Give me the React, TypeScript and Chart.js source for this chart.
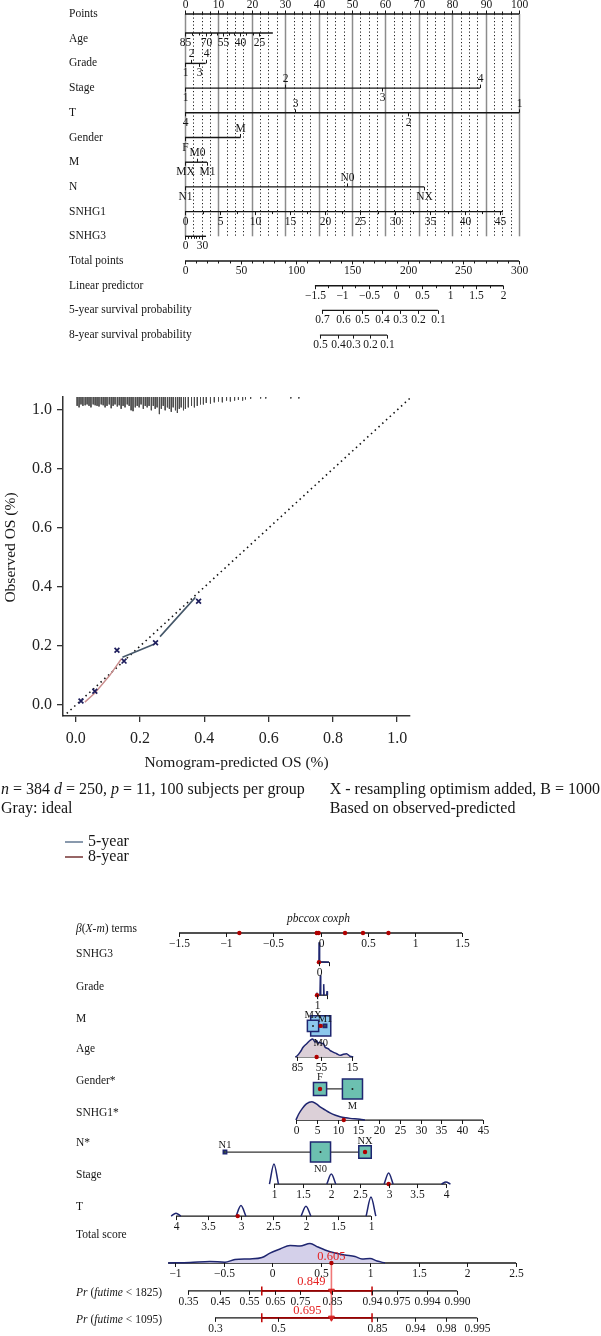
import React, { useEffect, useRef } from 'react';
import { Chart, registerables } from 'chart.js';

Chart.register(...registerables);

const SERIF = '"Liberation Serif", "Times New Roman", Times, serif';
const INK = '#161616';
const NAVY = '#1f2670';

/* ================= Panel A : nomogram ================= */
const nomoRowNames = ['Points', 'Age', 'Grade', 'Stage', 'T', 'Gender', 'M', 'N', 'SNHG1', 'SNHG3',
  'Total points', 'Linear predictor', '5-year survival probability', '8-year survival probability'];

const pointsValues = [0, 10, 20, 30, 40, 50, 60, 70, 80, 90, 100];
const ageValues = [85, 70, 55, 40, 25];
const agePoints = [0, 6.2, 11.3, 16.5, 22.2];
const ageEndPoints = 26.3;
const gradeLabels = ['1', '2', '3', '4'];
const gradePoints = [0, 1.7, 4.1, 6.2];
const stageLabels = ['1', '2', '3', '4'];
const stagePoints = [0, 30, 59, 88.3];
const tLabels = ['4', '3', '2', '1'];
const tPoints = [0, 33, 66.7, 100];
const genderLabels = ['F', 'M'];
const genderPoints = [0, 16.6];
const mLabels = ['MX', 'M0', 'M1'];
const mPoints = [0, 3.7, 6.6];
const nLabels = ['N1', 'N0', 'NX'];
const nPoints = [0, 48.5, 71.6];
const snhg1Values = [0, 5, 10, 15, 20, 25, 30, 35, 40, 45];
const snhg1Points = [0, 10.5, 20.9, 31.4, 41.9, 52.4, 62.9, 73.4, 83.8, 94.3];
const snhg1EndPoints = 95.2;
const snhg3Values = [0, 30];
const snhg3Points = [0, 5.1];
const snhg3EndPoints = 6.3;
const totalPointsValues = [0, 50, 100, 150, 200, 250, 300];
const totalPointsPos = [0, 16.67, 33.33, 50, 66.67, 83.33, 100];
const lpValues = [-1.5, -1, -0.5, 0, 0.5, 1, 1.5, 2];
const lpPoints = [38.9, 47.0, 55.0, 63.1, 71.1, 79.2, 87.2, 95.3];
const surv5Labels = ['0.7', '0.6', '0.5', '0.4', '0.3', '0.2', '0.1'];
const surv5Points = [41.0, 47.3, 53.0, 59.0, 64.4, 69.8, 75.7];
const surv8Labels = ['0.5', '0.4', '0.3', '0.2', '0.1'];
const surv8Points = [40.4, 45.8, 50.3, 55.4, 60.5];

const fmtMinus = (v: number) => (v < 0 ? '\u2212' + String(-v) : String(v));

function stepTicks(vals: number[], pts: number[], step: number) {
  const out: number[] = [];
  for (let k = 0; k < vals.length - 1; k++) {
    const a = vals[k], b = vals[k + 1];
    const dir = b > a ? 1 : -1;
    for (let v = a + dir * step; dir > 0 ? v < b - 1e-9 : v > b + 1e-9; v += dir * step) {
      out.push(pts[k] + (v - a) * (pts[k + 1] - pts[k]) / (b - a));
    }
  }
  return out;
}

type NRow = { labels: string[]; pts: number[]; side: string; from: number; to: number; dy?: number; minor?: number[] };

const nomoRows: NRow[] = [
  { labels: pointsValues.map(String), pts: pointsValues, side: 'aaaaaaaaaaa', from: 0, to: 100, minor: stepTicks(pointsValues, pointsValues, 2.5) },
  { labels: ageValues.map(String), pts: agePoints, side: 'bbbbb', from: 0, to: ageEndPoints, dy: -0.23, minor: stepTicks(ageValues, agePoints, 5) },
  { labels: gradeLabels, pts: gradePoints, side: 'baba', from: 0, to: gradePoints[3] },
  { labels: stageLabels, pts: stagePoints, side: 'baba', from: 0, to: stagePoints[3] },
  { labels: tLabels, pts: tPoints, side: 'baba', from: 0, to: 100 },
  { labels: genderLabels, pts: genderPoints, side: 'ba', from: 0, to: genderPoints[1] },
  { labels: mLabels, pts: mPoints, side: 'bab', from: 0, to: mPoints[2] },
  { labels: nLabels, pts: nPoints, side: 'bab', from: 0, to: nPoints[2] },
  { labels: snhg1Values.map(String), pts: snhg1Points, side: 'bbbbbbbbbb', from: 0, to: snhg1EndPoints, minor: stepTicks(snhg1Values, snhg1Points, 2.5) },
  { labels: snhg3Values.map(String), pts: snhg3Points, side: 'bb', from: 0, to: snhg3EndPoints, minor: stepTicks(snhg3Values, snhg3Points, 5) },
  { labels: totalPointsValues.map(String), pts: totalPointsPos, side: 'bbbbbbb', from: 0, to: 100, minor: stepTicks(totalPointsValues, totalPointsPos, 10) },
  { labels: lpValues.map(fmtMinus), pts: lpPoints, side: 'bbbbbbbb', from: lpPoints[0], to: lpPoints[7], minor: stepTicks(lpValues, lpPoints, 0.25) },
  { labels: surv5Labels, pts: surv5Points, side: 'bbbbbbb', from: surv5Points[0], to: surv5Points[6] },
  { labels: surv8Labels, pts: surv8Points, side: 'bbbbb', from: surv8Points[0], to: surv8Points[4] },
];

/* ================= Panel B : calibration ================= */
const calTicks = [0, 0.2, 0.4, 0.6, 0.8, 1.0];
const calPred = [0.016, 0.059, 0.128, 0.150, 0.248, 0.382];
const calObs = [0.014, 0.047, 0.186, 0.149, 0.211, 0.352];
const line8Pred = [0.028, 0.06, 0.105, 0.142];
const line8Obs = [0.01, 0.042, 0.1, 0.157];
const line5Pred = [0.145, 0.243, 0.252, 0.262, 0.372];
const line5Obs = [0.162, 0.206, null, 0.232, 0.365];
const spikePred = [
  0.004, 0.010, 0.016, 0.022, 0.029, 0.035, 0.041, 0.047, 0.054, 0.060,
  0.066, 0.072, 0.079, 0.085, 0.091, 0.097, 0.104, 0.110, 0.116, 0.122,
  0.129, 0.135, 0.141, 0.147, 0.153, 0.160, 0.166, 0.172, 0.178, 0.185,
  0.191, 0.197, 0.203, 0.210, 0.216, 0.222, 0.228, 0.235, 0.241, 0.247,
  0.253, 0.260, 0.266, 0.272, 0.278, 0.285, 0.291, 0.297, 0.303, 0.310,
  0.316, 0.322, 0.328, 0.335, 0.341, 0.350, 0.360, 0.369, 0.378, 0.388,
  0.397, 0.406, 0.419, 0.431, 0.444, 0.456, 0.469, 0.481, 0.494, 0.506,
  0.519, 0.528, 0.544, 0.575, 0.591, 0.669, 0.694];
const spikeLen = [
  0.030, 0.035, 0.025, 0.030, 0.028, 0.025, 0.030, 0.035, 0.025, 0.028,
  0.030, 0.032, 0.025, 0.028, 0.035, 0.030, 0.025, 0.038, 0.030, 0.025,
  0.032, 0.028, 0.040, 0.030, 0.035, 0.025, 0.030, 0.045, 0.048, 0.035,
  0.030, 0.035, 0.025, 0.040, 0.030, 0.035, 0.030, 0.045, 0.030, 0.040,
  0.035, 0.058, 0.040, 0.030, 0.045, 0.035, 0.040, 0.050, 0.035, 0.045,
  0.054, 0.040, 0.035, 0.045, 0.040, 0.035, 0.030, 0.035, 0.030, 0.025,
  0.025, 0.020, 0.022, 0.018, 0.015, 0.018, 0.012, 0.015, 0.012, 0.010,
  0.012, 0.008, 0.006, 0.005, 0.005, 0.005, 0.005];
const calMin = -0.04, calMaxX = 1.04, calMinY = -0.037, calMaxY = 1.044;

/* ================= Panel C : regression nomogram ================= */
const betaTicks = [-1.5, -1, -0.5, 0, 0.5, 1, 1.5];
const betaObs = [-0.86, -0.04, -0.02, 0.26, 0.45, 0.72];
const snhg3DensVals = [0, 0.3, 1, 3, 30];
const snhg3Dens = [0, 1, 0.08, 0.02, 0];
const gradeLevels = [1, 2, 3, 4];
const gradeFreq = [0.06, 1.0, 0.55, 0.2];
const mCats = ['MX', 'M0', 'M1'];
const mFreq = [0.22, 0.70, 0.02];
const mScore = [0.416, 0.495, 0.539];
const ageDensVals = [87, 85, 81, 77, 72.7, 68.5, 65, 62, 60, 58, 55.7, 53.6, 51.5, 49.4, 45, 43, 39, 34.5, 30, 26, 22, 17.6, 13.4];
const ageDens = [0, 0.05, 0.27, 0.55, 0.73, 0.91, 1.0, 0.82, 0.91, 0.76, 0.82, 0.73, 0.76, 0.55, 0.45, 0.36, 0.27, 0.18, 0.09, 0.15, 0.18, 0.04, 0];
const ageAxisTicks = [85, 55, 15];
const genderCats = ['F', 'M'];
const genderFreq = [0.30, 0.70];
const genderScore = [0.488, 0.821];
const snhg1DensVals = [0, 0.6, 1.5, 2.5, 3.85, 5, 5.8, 7, 8.2, 9.5, 10.6, 12, 13, 15.4, 16.6];
const snhg1Dens = [0, 0.3, 0.62, 0.88, 1.0, 0.86, 0.72, 0.55, 0.39, 0.26, 0.18, 0.12, 0.09, 0.04, 0];
const nCats = ['N1', 'N0', 'NX'];
const nFreq = [0.02, 0.70, 0.27];
const nScore = [-0.488, 0.493, 0.950];
const stageLevels = [1, 2, 3, 4];
const stageFreq = [1.0, 0.5, 0.55, 0.1];
const stageTicks = [1, 1.5, 2, 2.5, 3, 3.5, 4];
const tLevels = [4, 3, 2, 1];
const tFreq = [0.15, 0.55, 0.52, 1.0];
const tTicks = [4, 3.5, 3, 2.5, 2, 1.5, 1];
const totalDensScore = [-1.073, -0.847, -0.642, -0.488, -0.385, -0.231, -0.108, -0.026, 0.077, 0.180, 0.282, 0.385, 0.467, 0.539, 0.642, 0.744, 0.847, 0.919, 1.001, 1.073, 1.155];
const totalDens = [0, 0.03, 0.08, 0.04, 0.18, 0.21, 0.28, 0.51, 0.72, 0.9, 0.87, 1.0, 0.82, 0.67, 0.51, 0.41, 0.33, 0.21, 0.23, 0.1, 0];
const totalTicks = [-1, -0.5, 0, 0.5, 1, 1.5, 2, 2.5];
const pr1825Labels = ['0.35', '0.45', '0.55', '0.65', '0.75', '0.85', '0.94', '0.975', '0.994', '0.990'];
const pr1825Score = [-0.868, -0.539, -0.246, 0.026, 0.282, 0.611, 1.022, 1.278, 1.586, 1.894];
const pr1095Labels = ['0.3', '0.5', '0.85', '0.94', '0.98', '0.995'];
const pr1095Score = [-0.590, 0.056, 1.073, 1.463, 1.781, 2.099];
const obsTotal = 0.605;
const obsPr1825 = '0.849';
const obsPr1095 = '0.695';
const prInterval = [-0.11, 1.022];
const obsAge = 60, obsSnhg1 = 11.5, obsStage = 3, obsT = 3.05, obsSnhg3 = 0, obsGrade = 1;
const obsM = 'M0', obsGender = 'F', obsN = 'NX';

const lin = (v0: number, s0: number, v1: number, s1: number) => (v: number) => s0 + (v - v0) * (s1 - s0) / (v1 - v0);
const betaToScore = lin(-1.5, -0.960, 1.5, 1.946);
const snhg3ToScore = lin(0, 0.477, 30, 0.580);
const gradeToScore = lin(1, 0.457, 4, 0.560);
const ageToScore = lin(85, 0.2515, 15, 0.816);
const snhg1ToScore = lin(0, 0.241, 45, 2.161);
const stageToScore = lin(1, 0.015, 4, 1.781);
const tToScore = lin(4, -0.991, 1, 1.011);
const idScore = (v: number) => v;

// layout: baseline of each row (row units)
const R: Record<string, number> = { beta: 0, snhg3: 0.92, grade: 1.96, m: 2.93, age: 3.91, gender: 4.92, snhg1: 5.9, n: 6.91, stage: 7.92, t: 8.93, total: 10.41, pr1825: 11.29, pr1095: 12.14 };

/* ================= helpers ================= */
type Run = [string, boolean?];
function drawRuns(ctx: CanvasRenderingContext2D, runs: Run[], x: number, y: number, size: number, align = 'left', color = INK, weight = '') {
  ctx.save();
  ctx.textBaseline = 'middle';
  ctx.textAlign = 'left';
  ctx.fillStyle = color;
  const f = (it?: boolean) => `${it ? 'italic ' : ''}${weight ? weight + ' ' : ''}${size}px ${SERIF}`;
  let total = 0;
  for (const [t, it] of runs) { ctx.font = f(it); total += ctx.measureText(t).width; }
  let cx = align === 'left' ? x : align === 'center' ? x - total / 2 : x - total;
  for (const [t, it] of runs) { ctx.font = f(it); ctx.fillText(t, cx, y); cx += ctx.measureText(t).width; }
  ctx.restore();
}
function seg(ctx: CanvasRenderingContext2D, x1: number, y1: number, x2: number, y2: number) {
  ctx.beginPath(); ctx.moveTo(x1, y1); ctx.lineTo(x2, y2); ctx.stroke();
}

const common = {
  responsive: false,
  animation: false as const,
  devicePixelRatio: 1,
  events: [] as any[],
  elements: { point: { radius: 0 } },
  layout: { padding: 0, autoPadding: false },
};

/* ================= chart builders ================= */
function makeNomogram(canvas: HTMLCanvasElement) {
  const datasets = nomoRows.map((r, i) => ({
    data: [{ x: r.from, y: i + (r.dy || 0) }, { x: r.to, y: i + (r.dy || 0) }],
    borderColor: INK, borderWidth: 1.4, pointRadius: 0,
  }));
  const plugin = {
    id: 'nomoDeco',
    beforeDatasetsDraw(chart: any) {
      const { ctx, scales: { x, y } } = chart;
      const yTop = y.getPixelForValue(0), yBot = y.getPixelForValue(9);
      for (let p = 0; p <= 100 + 1e-9; p += 2.5) {
        const px = Math.round(x.getPixelForValue(p)) + 0.5;
        ctx.save();
        if (Math.abs(p % 10) < 1e-9) { ctx.strokeStyle = '#8c8c8c'; ctx.lineWidth = 1.5; }
        else { ctx.strokeStyle = '#202020'; ctx.lineWidth = 1; ctx.setLineDash([1.2, 2.3]); }
        seg(ctx, px, yTop, px, yBot);
        ctx.restore();
      }
    },
    afterDatasetsDraw(chart: any) {
      const { ctx, scales: { x, y } } = chart;
      ctx.save();
      ctx.strokeStyle = INK; ctx.lineWidth = 1;
      nomoRows.forEach((r, i) => {
        const py = y.getPixelForValue(i + (r.dy || 0));
        const mdir = r.side[0] === 'a' ? -1 : 1;
        (r.minor || []).forEach((p) => { const px = Math.round(x.getPixelForValue(p)) + 0.5; seg(ctx, px, py, px, py + mdir * 2.5); });
        r.pts.forEach((p, k) => {
          const up = r.side[k] === 'a';
          const px = Math.round(x.getPixelForValue(p)) + 0.5;
          seg(ctx, px, py, px, py + (up ? -3.5 : 3.5));
          drawRuns(ctx, [[r.labels[k]]], px, py + (up ? -9 : 10), 11.5, 'center');
        });
        drawRuns(ctx, [[nomoRowNames[i]]], 69, y.getPixelForValue(i), 11.5, 'left');
      });
      ctx.restore();
    },
  };
  return new Chart(canvas, {
    type: 'line',
    data: { datasets } as any,
    options: {
      ...common,
      scales: {
        x: { type: 'linear', display: false, min: -55.389, max: 124.551 },
        y: { type: 'linear', display: false, reverse: true, min: -0.5668, max: 13.8057 },
      },
      plugins: { legend: { display: false }, tooltip: { enabled: false } },
    } as any,
    plugins: [plugin],
  });
}

function makeCalibration(canvas: HTMLCanvasElement) {
  const spikes: any[] = [];
  spikePred.forEach((p, i) => {
    spikes.push({ x: p, y: calMaxY }, { x: p, y: calMaxY - spikeLen[i] }, { x: p, y: null });
  });
  const font = { family: SERIF, size: 16 };
  const TS = 16;
  const plugin = {
    id: 'calDeco',
    afterDraw(chart: any) {
      const { ctx, chartArea: a } = chart;
      drawRuns(ctx, [['Nomogram-predicted OS (%)']], (a.left + a.right) / 2, a.bottom + 47, 15.5, 'center');
      ctx.save();
      ctx.translate(11, (a.top + a.bottom) / 2 - 9);
      ctx.rotate(-Math.PI / 2);
      drawRuns(ctx, [['Observed OS (%)']], 0, 0, 15.5, 'center');
      ctx.restore();
      const y1 = a.bottom + 74, y2 = a.bottom + 93;
      drawRuns(ctx, [['n', true], [' = 384 '], ['d', true], [' = 250, '], ['p', true], [' = 11, 100 subjects per group']], 1, y1, TS);
      ctx.save();
      ctx.font = `${TS}px ${SERIF}`;
      const xLine = 'X - resampling optimism added, B = 1000';
      const startX = 600 - ctx.measureText(xLine).width;
      ctx.restore();
      drawRuns(ctx, [[xLine]], startX, y1, TS);
      drawRuns(ctx, [['Gray: ideal']], 1, y2, TS);
      drawRuns(ctx, [['Based on observed-predicted']], startX, y2, TS);
      const legend = [['5-year', '#6b7f99'], ['8-year', '#7d3f3f']];
      legend.forEach(([name, col], k) => {
        const ly = a.bottom + 126 + k * 15;
        ctx.save(); ctx.strokeStyle = col; ctx.lineWidth = 1.6; seg(ctx, 65, ly, 83, ly); ctx.restore();
        drawRuns(ctx, [[name]], 88, ly, TS);
      });
    },
  };
  const axisCommon = (min: number, max: number, extra: any) => ({
    type: 'linear', min, max,
    afterBuildTicks: (ax: any) => { ax.ticks = calTicks.map((v) => ({ value: v })); },
    grid: { display: true, drawOnChartArea: false, drawTicks: true, tickLength: 6, color: '#333', lineWidth: 1.3 },
    border: { display: true, color: '#333', width: 1.5 },
    ...extra,
  });
  return new Chart(canvas, {
    type: 'line',
    data: {
      datasets: [
        { data: spikes, borderColor: '#4a4a4a', borderWidth: 1, pointRadius: 0, spanGaps: false, order: 5 },
        { data: [{ x: calMin, y: calMin }, { x: calMaxX, y: calMaxX }], borderColor: '#111', borderWidth: 1.6, borderDash: [1.5, 3.6], pointRadius: 0, order: 4 },
        { data: line8Pred.map((x, i) => ({ x, y: line8Obs[i] })), borderColor: '#c98d8d', borderWidth: 1.4, pointRadius: 0, order: 3 },
        { data: line5Pred.map((x, i) => ({ x, y: line5Obs[i] })), borderColor: '#46586a', borderWidth: 1.6, pointRadius: 0, spanGaps: false, order: 2 },
        { data: calPred.map((x, i) => ({ x, y: calObs[i] })), showLine: false, pointStyle: 'crossRot', pointRadius: 3.4, pointBorderWidth: 1.7, pointBorderColor: '#1d1d5c', order: 1 },
      ],
    } as any,
    options: {
      ...common,
      layout: { padding: { top: 42, right: 191, bottom: 91, left: 0 }, autoPadding: false },
      scales: {
        x: axisCommon(calMin, calMaxX, { afterFit: (s: any) => { s.height = 60; }, ticks: { font, color: '#222', callback: (v: any) => Number(v).toFixed(1), autoSkip: false, maxRotation: 0, padding: 7 } }),
        y: axisCommon(calMinY, calMaxY, { afterFit: (s: any) => { s.width = 63; }, ticks: { font, color: '#222', callback: (v: any) => Number(v).toFixed(1), autoSkip: false, padding: 5 } }),
      },
      plugins: { legend: { display: false }, tooltip: { enabled: false } },
    } as any,
    plugins: [plugin],
  });
}

function densityData(vals: number[], dens: number[], map: (v: number) => number, base: number, h: number) {
  return vals.map((v, i) => ({ x: map(v), y: base - dens[i] * h }));
}
function bumpData(levels: number[], freq: number[], map: (v: number) => number, base: number, h: number, w: number) {
  const out: any[] = [];
  levels.forEach((c, i) => {
    const s = map(c);
    out.push({ x: s - w, y: base }, { x: s, y: base - freq[i] * h }, { x: s + w, y: base }, { x: s + w, y: null });
  });
  return out;
}

function makeRegplot(canvas: HTMLCanvasElement) {
  const axisSet = (from: number, to: number, map: (v: number) => number, row: number, w = 1.3) => ({
    data: [{ x: map(from), y: row }, { x: map(to), y: row }], borderColor: INK, borderWidth: w, pointRadius: 0, order: 10,
  });
  const boxSet = (scores: number[], freq: number[], row: number, fill: string) => {
    const idx = freq.map((_, i) => i).sort((a, b) => freq[b] - freq[a]);
    return {
      data: idx.map((i) => ({ x: scores[i], y: row })),
      showLine: false, pointStyle: 'rect',
      pointRadius: idx.map((i) => (24 * Math.sqrt(freq[i])) / 1.414),
      pointBackgroundColor: fill, pointBorderColor: NAVY, pointBorderWidth: 1.5, order: 5,
    };
  };
  const densStyle = { borderColor: NAVY, borderWidth: 1.5, pointRadius: 0, cubicInterpolationMode: 'monotone', order: 8 };
  const redPts = [
    ...betaObs.map((b) => ({ x: betaToScore(b), y: R.beta })),
    { x: snhg3ToScore(obsSnhg3), y: R.snhg3 },
    { x: gradeToScore(obsGrade), y: R.grade },
    { x: mScore[mCats.indexOf(obsM)], y: R.m },
    { x: ageToScore(obsAge), y: R.age },
    { x: genderScore[genderCats.indexOf(obsGender)], y: R.gender },
    { x: snhg1ToScore(obsSnhg1), y: R.snhg1 },
    { x: nScore[nCats.indexOf(obsN)], y: R.n },
    { x: stageToScore(obsStage), y: R.stage },
    { x: tToScore(obsT), y: R.t },
    { x: obsTotal, y: R.total },
  ];
  const datasets: any[] = [
    axisSet(-1.5, 1.5, betaToScore, R.beta),
    axisSet(0, 30, snhg3ToScore, R.snhg3),
    axisSet(1, 4, gradeToScore, R.grade),
    axisSet(87, 14, ageToScore, R.age),
    axisSet(0, 45, snhg1ToScore, R.snhg1),
    axisSet(1, 4, stageToScore, R.stage),
    axisSet(4, 1, tToScore, R.t),
    axisSet(-1.07, 2.5, idScore, R.total, 1.5),
    axisSet(pr1825Score[0], pr1825Score[pr1825Score.length - 1], idScore, R.pr1825),
    axisSet(pr1095Score[0], pr1095Score[pr1095Score.length - 1], idScore, R.pr1095),
    { data: [{ x: genderScore[0], y: R.gender }, { x: genderScore[1], y: R.gender }], borderColor: '#333', borderWidth: 1.3, pointRadius: 0, order: 9 },
    { data: [{ x: nScore[0], y: R.n }, { x: nScore[2], y: R.n }], borderColor: '#333', borderWidth: 1.3, pointRadius: 0, order: 9 },
    { ...densStyle, cubicInterpolationMode: 'default', tension: 0, data: densityData(snhg3DensVals, snhg3Dens, snhg3ToScore, R.snhg3, 0.63) },
    { ...densStyle, cubicInterpolationMode: 'default', tension: 0, data: bumpData(gradeLevels, gradeFreq, gradeToScore, R.grade, 0.63, 0.004) },
    { ...densStyle, data: densityData(ageDensVals, ageDens, ageToScore, R.age, 0.57), fill: { value: R.age }, backgroundColor: '#dcd0d8' },
    { ...densStyle, data: densityData(snhg1DensVals, snhg1Dens, snhg1ToScore, R.snhg1, 0.58), fill: { value: R.snhg1 }, backgroundColor: '#dcd0d8' },
    { ...densStyle, data: bumpData(stageLevels, stageFreq, stageToScore, R.stage, 0.63, 0.046) },
    { ...densStyle, data: bumpData(tLevels, tFreq, tToScore, R.t, 0.6, 0.05) },
    { ...densStyle, data: densityData(totalDensScore, totalDens, idScore, R.total, 0.615), fill: { value: R.total }, backgroundColor: '#d4d0ea' },
    boxSet(mScore, mFreq, R.m, '#8cc8ec'),
    boxSet(genderScore, genderFreq, R.gender, '#6cc0b0'),
    boxSet(nScore, nFreq, R.n, '#6cc0b0'),
    { data: [...mScore.map((s) => ({ x: s, y: R.m })), ...genderScore.map((s) => ({ x: s, y: R.gender })), ...nScore.map((s) => ({ x: s, y: R.n }))], showLine: false, pointRadius: 1, pointBackgroundColor: '#222', pointBorderWidth: 0, order: 4 },
    { data: [{ x: obsTotal, y: R.total }, { x: obsTotal, y: R.pr1095 }], borderColor: '#f07878', borderWidth: 1.6, pointRadius: 0, order: 3 },
    { data: [{ x: prInterval[0], y: R.pr1825 }, { x: prInterval[1], y: R.pr1825 }], borderColor: '#9a0000', borderWidth: 1.6, pointRadius: 0, order: 2 },
    { data: [{ x: prInterval[0], y: R.pr1095 }, { x: prInterval[1], y: R.pr1095 }], borderColor: '#9a0000', borderWidth: 1.6, pointRadius: 0, order: 2 },
    { data: [prInterval[0], prInterval[1]].flatMap((s) => [{ x: s, y: R.pr1825 }, { x: s, y: R.pr1095 }]), showLine: false, pointStyle: 'line', pointRotation: 90, pointRadius: 4.5, pointBorderColor: '#c00000', pointBorderWidth: 1.5, order: 2 },
    { data: redPts, showLine: false, pointRadius: 2.2, pointBackgroundColor: '#b00000', pointBorderColor: '#b00000', pointBorderWidth: 0, order: 1 },
    { data: [{ x: obsTotal, y: R.pr1825 }, { x: obsTotal, y: R.pr1095 }], showLine: false, pointStyle: 'triangle', pointRotation: 180, pointRadius: 3.4, pointBackgroundColor: '#d42020', pointBorderColor: '#d42020', order: 1 },
  ];

  const tickRows = [
    { row: R.beta, map: betaToScore, vals: betaTicks, labels: betaTicks.map(fmtMinus) },
    { row: R.snhg3, map: snhg3ToScore, vals: [0, 30], labels: ['0', ''] },
    { row: R.grade, map: gradeToScore, vals: [1, 4], labels: ['1', ''] },
    { row: R.age, map: ageToScore, vals: ageAxisTicks, labels: ageAxisTicks.map(String) },
    { row: R.snhg1, map: snhg1ToScore, vals: snhg1Values, labels: snhg1Values.map(String) },
    { row: R.stage, map: stageToScore, vals: stageTicks, labels: stageTicks.map(String) },
    { row: R.t, map: tToScore, vals: tTicks, labels: tTicks.map(String) },
    { row: R.total, map: idScore, vals: totalTicks, labels: totalTicks.map(fmtMinus) },
    { row: R.pr1825, map: idScore, vals: pr1825Score, labels: pr1825Labels },
    { row: R.pr1095, map: idScore, vals: pr1095Score, labels: pr1095Labels },
  ];
  const rowNames: [Run[], number, number][] = [
    [[['\u03b2', true], ['('], ['X', true], ['-'], ['m', true], [') terms']], R.beta, -0.13],
    [[['SNHG3']], R.snhg3, -0.25],
    [[['Grade']], R.grade, -0.25],
    [[['M']], R.m, -0.22],
    [[['Age']], R.age, -0.25],
    [[['Gender*']], R.gender, -0.25],
    [[['SNHG1*']], R.snhg1, -0.22],
    [[['N*']], R.n, -0.28],
    [[['Stage']], R.stage, -0.28],
    [[['T']], R.t, -0.28],
    [[['Total score']], R.total, -0.88],
    [[['Pr', true], [' ('], ['futime', true], [' < 1825)']], R.pr1825, 0.06],
    [[['Pr', true], [' ('], ['futime', true], [' < 1095)']], R.pr1095, 0.06],
  ];
  const catLabels = [
    { cats: mCats, freq: mFreq, score: mScore, row: R.m, side: 'aba' },
    { cats: genderCats, freq: genderFreq, score: genderScore, row: R.gender, side: 'ab' },
    { cats: nCats, freq: nFreq, score: nScore, row: R.n, side: 'aba' },
  ];
  const plugin = {
    id: 'regDeco',
    afterDatasetsDraw(chart: any) {
      const { ctx, scales: { x, y } } = chart;
      ctx.save();
      ctx.strokeStyle = INK; ctx.lineWidth = 1;
      tickRows.forEach((tr) => {
        const py = y.getPixelForValue(tr.row);
        tr.vals.forEach((v, k) => {
          const px = Math.round(x.getPixelForValue(tr.map(v))) + 0.5;
          seg(ctx, px, py, px, py + 4);
          if (tr.labels[k]) drawRuns(ctx, [[tr.labels[k]]], px, py + 11, 11.5, 'center');
        });
      });
      rowNames.forEach(([runs, row, dy]) => drawRuns(ctx, runs, 76, y.getPixelForValue(row + dy), 11.5, 'left'));
      drawRuns(ctx, [['pbccox coxph', true]], x.getPixelForValue(betaToScore(0)) - 2, y.getPixelForValue(R.beta - 0.44), 11.5, 'center');
      catLabels.forEach((c) => {
        const py = y.getPixelForValue(c.row);
        c.cats.forEach((name, k) => {
          const half = (24 * Math.sqrt(c.freq[k])) / 2;
          const up = c.side[k] === 'a';
          drawRuns(ctx, [[name]], x.getPixelForValue(c.score[k]), up ? py - half - 5 : py + half + 7, 10.5, 'center');
        });
      });
      const ox = x.getPixelForValue(obsTotal);
      drawRuns(ctx, [[String(obsTotal)]], ox, y.getPixelForValue(R.total) - 6, 12.5, 'center', '#e52222');
      drawRuns(ctx, [[obsPr1825]], ox - 6, y.getPixelForValue(R.pr1825) - 9, 12.5, 'right', '#e52222');
      drawRuns(ctx, [[obsPr1095]], ox - 10, y.getPixelForValue(R.pr1095) - 7, 12.5, 'right', '#e52222');
      ctx.restore();
    },
  };
  return new Chart(canvas, {
    type: 'line',
    data: { datasets } as any,
    options: {
      ...common,
      scales: {
        x: { type: 'linear', display: false, min: -2.7977, max: 3.3727 },
        y: { type: 'linear', display: false, reverse: true, min: -2.3028, max: 12.7129 },
      },
      plugins: { legend: { display: false }, tooltip: { enabled: false }, filler: { propagate: false } },
    } as any,
    plugins: [plugin],
  });
}

function Panel({ top, height, make }: { top: number; height: number; make: (c: HTMLCanvasElement) => Chart }) {
  const ref = useRef<HTMLCanvasElement>(null);
  useEffect(() => {
    const chart = make(ref.current as HTMLCanvasElement);
    return () => chart.destroy();
  }, [make]);
  return (
    <canvas ref={ref} width={601} height={height}
      style={{ position: 'absolute', left: 0, top, width: 601, height, display: 'block' }} />
  );
}

export default function App() {
  return (
    <div style={{ position: 'absolute', left: 0, top: 0, width: 601, height: 1336, background: '#fff', overflow: 'hidden' }}>
      <Panel top={0} height={355} make={makeNomogram} />
      <Panel top={355} height={512} make={makeCalibration} />
      <Panel top={860} height={476} make={makeRegplot} />
    </div>
  );
}
